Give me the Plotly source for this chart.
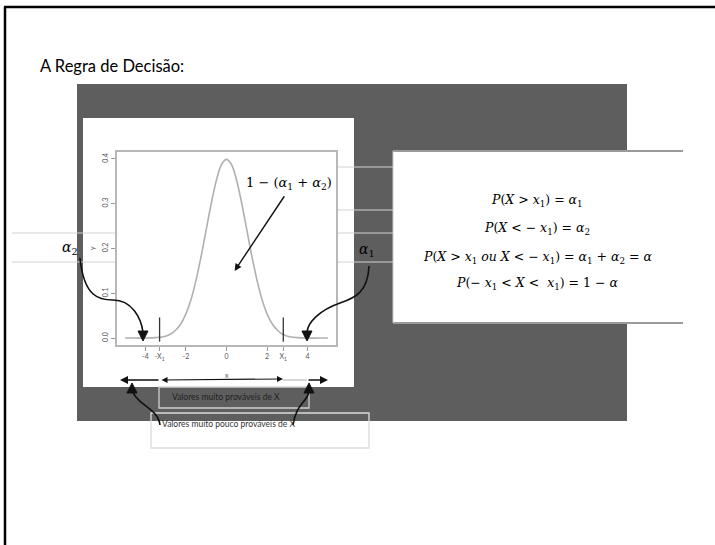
import plotly.graph_objects as go

W, H = 715, 545

# densidade normal
curve_x = [-5, -4.5, -4, -3.5, -3, -2.75, -2.5, -2.25, -2, -1.75, -1.5, -1.25, -1, -0.75,
           -0.5, -0.25, 0, 0.25, 0.5, 0.75, 1, 1.25, 1.5, 1.75, 2, 2.25, 2.5, 2.75,
           3, 3.5, 4, 4.5, 5]
curve_y = [0.000, 0.000, 0.000, 0.001, 0.004, 0.009, 0.018, 0.032, 0.054, 0.086, 0.130, 0.183,
           0.242, 0.301, 0.352, 0.387, 0.399, 0.387, 0.352, 0.301, 0.242, 0.183, 0.130, 0.086,
           0.054, 0.032, 0.018, 0.009, 0.004, 0.001, 0.000, 0.000, 0.000]
cut_x = [-3.3, 2.8]
cut_y = [-0.008, 0.046]

x_tickvals = [-4, -3.3, -2, 0, 2, 2.8, 4]
x_ticktext = ["-4", "-X<sub>1</sub>", "-2", "0", "2", "X<sub>1</sub>", "4"]
y_tickvals = [0.0, 0.1, 0.2, 0.3, 0.4]
y_ticktext = ["0.0", "0.1", "0.2", "0.3", "0.4"]

formulas = [
    "<i>P</i>(<i>X</i> > <i>x</i><sub>1</sub>) = <i>α</i><sub>1</sub>",
    "<i>P</i>(<i>X</i> < − <i>x</i><sub>1</sub>) = <i>α</i><sub>2</sub>",
    "<i>P</i>(<i>X</i> > <i>x</i><sub>1</sub> <i>ou X</i> < − <i>x</i><sub>1</sub>) = "
    "<i>α</i><sub>1</sub> + <i>α</i><sub>2</sub> = <i>α</i>",
    "<i>P</i>(− <i>x</i><sub>1</sub> < <i>X</i> <  <i>x</i><sub>1</sub>) = 1 − <i>α</i>",
]
title = "A Regra de Decisão:"
label_likely = "Valores muito prováveis de X"
label_unlikely = "Valores muito pouco prováveis de X"

SERIF = "DejaVu Serif"
SANS = "Lato"
DARK = "#5e5e5e"
THIN = "#d2d2d2"


def fx(x):
    return x / W


def fy(y):
    return 1 - y / H


def rect(x0, y0, x1, y1, **kw):
    return dict(type="rect", xref="paper", yref="paper",
                x0=fx(x0), x1=fx(x1), y0=fy(y1), y1=fy(y0), **kw)


def seg(x0, y0, x1, y1, color, width=1, layer="below"):
    return dict(type="line", xref="paper", yref="paper", layer=layer,
                x0=fx(x0), x1=fx(x1), y0=fy(y0), y1=fy(y1),
                line=dict(color=color, width=width))


def bezier(pts):
    s = "M %.5f %.5f" % (fx(pts[0][0]), fy(pts[0][1]))
    for i in range(1, len(pts), 3):
        s += " C " + " ".join("%.5f %.5f" % (fx(p[0]), fy(p[1])) for p in pts[i:i + 3])
    return dict(type="path", xref="paper", yref="paper", path=s, layer="above",
                line=dict(color="#111", width=1.6))


def head(x, y, d, size=5):
    if d == "down":
        pts = [(x, y), (x - size, y - 2 * size), (x + size, y - 2 * size)]
    else:
        pts = [(x, y), (x - size, y + 2 * size), (x + size, y + 2 * size)]
    s = "M " + " L ".join("%.5f %.5f" % (fx(a), fy(b)) for a, b in pts) + " Z"
    return dict(type="path", xref="paper", yref="paper", path=s, layer="above",
                fillcolor="#111", line=dict(color="#111", width=1))


fig = go.Figure()
fig.add_trace(go.Scatter(x=curve_x, y=curve_y, mode="lines", line_shape="spline",
                         line=dict(color="#b0b0b0", width=1.6), hoverinfo="skip"))
for cx in cut_x:
    fig.add_trace(go.Scatter(x=[cx, cx], y=cut_y, mode="lines",
                             line=dict(color="#333", width=1.3), hoverinfo="skip"))

shapes = [
    rect(77, 84, 627, 421, fillcolor=DARK, line_width=0, layer="below"),
    rect(83, 118, 354, 387, fillcolor="white", line_width=0, layer="below"),
    rect(393, 151, 683, 323, fillcolor="white", line_width=0, layer="below"),
    seg(393, 151, 683, 151, "#9a9a9a", 2),
    seg(393, 323, 683, 323, "#9a9a9a", 2),
    seg(393, 151, 393, 323, "#c8c8c8", 1),
    # linhas finas horizontais
    seg(12, 233, 117, 233, THIN), seg(336, 233, 393, 233, THIN),
    seg(12, 262, 117, 262, THIN), seg(336, 262, 393, 262, THIN),
    seg(336, 167, 393, 167, THIN), seg(336, 210, 393, 210, THIN),
    # caixas de rótulos
    rect(159, 387, 309, 408, line=dict(color="#cfcfcf", width=1.3), layer="below"),
    rect(151, 413, 369, 448, line=dict(color="#dcdcdc", width=1.3), layer="below"),
    seg(283, 380, 307, 380, "#d8d8d8", 2),
    # setas curvas
    bezier([(80, 258), (84, 298), (100, 300), (113, 300), (132, 300), (141, 318), (143, 332)]),
    head(143, 341, "down"),
    bezier([(369, 266), (368, 292), (355, 298), (340, 303), (320, 310), (308, 322), (307, 332)]),
    head(307, 341, "down"),
    bezier([(160, 425), (158, 408), (136, 404), (133, 392)]),
    head(132, 383, "up"),
    bezier([(293, 425), (296, 404), (307, 402), (309, 392)]),
    head(309, 383, "up"),
    # borda do slide
    seg(4, 7, 715, 7, "black", 2.5, "above"),
    seg(5, 7, 5, 545, "black", 2.5, "above"),
]

ann = [
    dict(text=title, x=fx(38), y=fy(66), xanchor="left", yanchor="middle",
         font=dict(family=SANS, size=16.5, color="black")),
    dict(text="<i>α</i><sub>2</sub>", x=fx(70), y=fy(248), font=dict(family=SERIF, size=14)),
    dict(text="<i>α</i><sub>1</sub>", x=fx(367), y=fy(250), font=dict(family=SERIF, size=14)),
    dict(text="1 − (<i>α</i><sub>1</sub> + <i>α</i><sub>2</sub>)", x=fx(289), y=fy(183),
         font=dict(family=SERIF, size=13)),
    dict(text="y", x=fx(92), y=fy(248), textangle=-90, font=dict(family=SANS, size=7, color="#555")),
    dict(text="x", x=fx(227), y=fy(375), font=dict(family=SANS, size=7, color="#555")),
    dict(text=label_likely, x=fx(170), y=fy(397), xanchor="left",
         font=dict(family=SANS, size=8.5, color="#222")),
    dict(text=label_unlikely, x=fx(160), y=fy(424), xanchor="left",
         font=dict(family=SANS, size=8.5, color="#333")),
]
for i, f in enumerate(formulas):
    ann.append(dict(text=f, x=fx(537), y=fy([200, 228, 257, 283][i]),
                    font=dict(family=SERIF, size=12.5, color="black")))
for a in ann:
    a.update(xref="paper", yref="paper", showarrow=False)
    a.setdefault("yanchor", "middle")
    a.setdefault("xanchor", "center")
    a["font"].setdefault("color", "black")

arrow = dict(xref="paper", yref="paper", text="", showarrow=True, arrowhead=2,
             arrowsize=1, arrowwidth=1.6, arrowcolor="#111")
ann += [
    dict(arrow, x=fx(120), y=fy(380), ax=40, ay=0),
    dict(arrow, x=fx(283), y=fy(379), ax=-123, ay=1, arrowside="end+start", startarrowhead=2,
         arrowwidth=1.2),
    dict(arrow, x=fx(328), y=fy(380), ax=-21, ay=0),
    dict(arrow, xref="x", yref="y", axref="x", ayref="y", x=0.4, y=0.15, ax=2.9, ay=0.32,
         arrowwidth=1.4),
]

fig.update_layout(
    width=W, height=H, margin=dict(l=0, r=0, t=0, b=0),
    paper_bgcolor="white", plot_bgcolor="white", showlegend=False,
    shapes=shapes, annotations=ann,
    xaxis=dict(domain=[fx(117), fx(336)], range=[-5.4, 5.4], tickvals=x_tickvals,
               ticktext=x_ticktext, showgrid=False, zeroline=False, showline=True,
               mirror=True, linecolor="#b8b8b8", linewidth=1.5, ticks="outside",
               ticklen=4, tickcolor="#999", tickfont=dict(family=SANS, size=7, color="#555")),
    yaxis=dict(domain=[fy(345), fy(152)], range=[-0.0155, 0.4155], tickvals=y_tickvals,
               ticktext=y_ticktext, showgrid=False, zeroline=False, showline=True,
               mirror=True, linecolor="#b8b8b8", linewidth=1.5, ticks="outside",
               ticklen=4, tickcolor="#999", tickangle=-90,
               tickfont=dict(family=SANS, size=7, color="#555")),
)

# a página tem margem de 8px no body; zera para alinhar com o slide
fig.write_html("out.html", config={"displayModeBar": False},
               post_script="document.body.style.margin='0';")
